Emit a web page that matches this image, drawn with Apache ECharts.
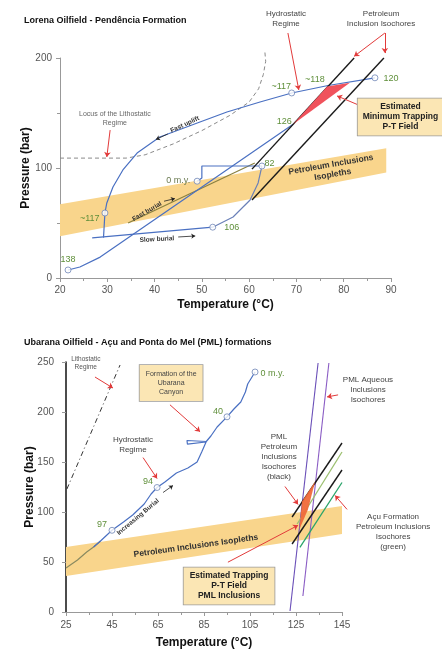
<!DOCTYPE html>
<html><head><meta charset="utf-8">
<script src="https://cdn.jsdelivr.net/npm/echarts@6/dist/echarts.min.js"></script>
<style>html,body{margin:0;padding:0;background:#fff}#c{width:442px;height:650px}</style>
</head><body><div id="c"></div>
<script>
const FONT = 'Arial, "Liberation Sans", sans-serif';

// ---------- Lorena Oilfield (top) data: [Temperature °C, Pressure bar] ----------
const lorenaIsoplethBand = [[20,67],[89,118],[89,96],[20,38]];
const lorenaLithostatic = [[20,109],[34,109],[38,112],[44,122],[50,134],[56,148],[60,160],[62,172],[63,185],[63.5,197],[63.3,207]];
const lorenaBurial138to126 = [[21.7,7.3],[24.2,10],[28.5,19],[69.3,139.7]];
const lorenaUplift = [[29.2,36.7],[29.5,59.1],[29.9,68.2],[31.2,82.7],[33.3,98.2],[36.3,113.6],[41.1,128.2],[49.6,141.8],[55.3,150.9],[62.3,160],[69,168.2],[76.7,175],[86.6,182]];
const lorenaSlowBurial = [[26.8,36.4],[52.3,46.2]];
const lorena106to82 = [[52.3,46.2],[56.6,55.5],[60.2,70.9],[61.9,86.4],[62.7,101.8]];
const lorena82to0 = [[62.7,101.8],[50,101.8],[50,91],[49,88]];
const lorenaFastBurial = [[34.4,50],[61.2,104.5]];
const lorenaIsochoreLeft = [[60.6,99],[82.2,200]];
const lorenaIsochoreRight = [[60.6,71],[88.5,200]];
const lorenaTrapField = [[69.3,139.7],[76.5,174],[81.3,177.6]];
const lorenaTimePoints = [[21.7,7.3],[29.5,59.1],[52.3,46.2],[62.7,101.8],[49,88],[69,168.2],[86.6,182]];
const lorenaTimeLabels = ['138','~117','106','82','0 m.y.','~117','~118','120','126'];

// ---------- Ubarana Oilfield (bottom) data ----------
const ubaranaIsoplethBand = [[25,65],[145,106],[145,78],[25,36]];
const ubaranaLithostatic = [[25.4,123],[48.5,247]];
const ubaranaBurialStart = [[25,44],[30,52],[34,60],[37,65],[40,71]];
const ubaranaBurial = [[37,65],[40,71],[45,81.7],[50,90],[54,97],[59,108],[62,118],[64.6,124.5],[68,130],[73,139],[78,144],[82,150],[84,160],[86,170.5],[77.6,171.5],[77.8,167.8],[85.8,170],[88,176],[90.7,185],[95,195.2],[98,203],[101,210],[103,220],[104,228],[107.2,240]];
const ubaranaTimePoints = [[45,81.7],[64.6,124.5],[95,195.2],[107.2,240]];
const ubaranaTimeLabels = ['97','94','40','0 m.y.'];
const pmlAqueous1 = [[122.4,1],[134.6,249]];
const pmlAqueous2 = [[128,16],[139.3,249]];
const pmlPetroleumA = [[123.3,95],[145,169]];
const pmlPetroleumB = [[123.3,68],[145,142]];
const acuPetroleumA = [[125.5,88],[145,160]];
const acuPetroleumB = [[126.7,64.7],[145,129.5]];
const ubaranaTrapField = [[127.6,110.6],[133.3,130.5],[130.2,102.6],[126.5,82.7]];

// ---------- annotations (text anchored in data coordinates) ----------
const GREEN = '#5f8f3a';
const lorenaTexts = [
  {t:'Locus of the Lithostatic\nRegime', p:[31.6,144.5], size:7, color:'#666'},
  {t:'Hydrostatic\nRegime', p:[67.8,235.5], size:8, color:'#444'},
  {t:'Petroleum\nInclusion Isochores', p:[87.9,235.5], size:8, color:'#444'},
  {t:'Estimated\nMinimum Trapping\nP-T Field', p:[92.0,146.4], size:8.5, bold:true, color:'#222', bg:'#fbe6b4', pad:[4,5,3,5]},
  {t:'Petroleum Inclusions\nIsopleths', p:[77.5,98.5], size:8.5, bold:true, color:'#333', rot:10},
  {t:'Fast uplift', p:[46.4,139.5], size:6.5, bold:true, color:'#333', rot:25},
  {t:'Fast burial', p:[38.4,60.5], size:6.5, bold:true, color:'#333', rot:30},
  {t:'Slow burial', p:[40.5,35.2], size:6.5, bold:true, color:'#333', rot:3},
  {t:lorenaTimeLabels[0], p:[21.7,16.4], size:9, color:GREEN},
  {t:lorenaTimeLabels[1], p:[26.3,54.5], size:9, color:GREEN},
  {t:lorenaTimeLabels[2], p:[56.3,46.2], size:9, color:GREEN},
  {t:lorenaTimeLabels[3], p:[64.3,104.5], size:9, color:GREEN},
  {t:lorenaTimeLabels[4], p:[45.0,88.2], size:9, color:'#6a7a50'},
  {t:lorenaTimeLabels[5], p:[66.8,173.8], size:9, color:GREEN},
  {t:lorenaTimeLabels[6], p:[73.9,180], size:9, color:GREEN},
  {t:lorenaTimeLabels[7], p:[90.0,181.5], size:9, color:GREEN},
  {t:lorenaTimeLabels[8], p:[67.4,142], size:9, color:GREEN}
];
const lorenaArrows = [
  [[30.6,134.5],[29.9,110]],
  [[68.2,222.7],[70.5,171]],
  [[88.7,222.7],[82.2,201.5]],
  [[88.7,222.7],[88.7,204.5]],
  [[83.6,156.4],[78.6,165.5]]
];
const lorenaSmallArrows = [
  [[42.8,130.9],[40.3,126.0]],
  [[42.0,69.8],[44.3,72.2]],
  [[45.0,37.3],[48.6,38.2]]
];
const ubaranaTexts = [
  {t:'Lithostatic\nRegime', p:[33.6,249], size:6.5, color:'#555'},
  {t:'Formation of the\nUbarana\nCanyon', p:[70.7,229], size:7, color:'#444', bg:'#fbe6b4', pad:[5,6,4,6]},
  {t:'Hydrostatic\nRegime', p:[54.1,167.3], size:8, color:'#444'},
  {t:'Increasing Burial', p:[56.3,95.0], size:6.5, bold:true, color:'#333', rot:40},
  {t:'Petroleum Inclusions Isopleths', p:[81.5,66.0], size:8.5, bold:true, color:'#333', rot:8},
  {t:'Estimated Trapping\nP-T Field\nPML Inclusions', p:[95.9,26.0], size:8.5, bold:true, color:'#222', bg:'#fbe6b4', pad:[4,6,3,6]},
  {t:'PML Aqueous\nInclusions\nIsochores', p:[156.3,222], size:8, color:'#444'},
  {t:'PML\nPetroleum\nInclusions\nIsochores\n(black)', p:[117.6,155.4], size:8, color:'#444'},
  {t:'Açu Formation\nPetroleum Inclusions\nIsochores\n(green)', p:[167.2,80.7], size:8, color:'#444'},
  {t:ubaranaTimeLabels[0], p:[40.7,87.6], size:9, color:GREEN},
  {t:ubaranaTimeLabels[1], p:[60.7,130.5], size:9, color:GREEN},
  {t:ubaranaTimeLabels[2], p:[91.1,200.2], size:9, color:GREEN},
  {t:ubaranaTimeLabels[3], p:[109.6,238], size:9, color:GREEN, align:'left'}
];
const ubaranaArrows = [
  [[37.6,235],[45.4,224]],
  [[70.2,207.2],[83.3,180.3]],
  [[58.5,154.4],[64.6,133.5]],
  [[95.4,49.8],[125.9,86.7]],
  [[143.3,217.1],[138.5,215.1]],
  [[120.2,125.5],[125.9,107.6]],
  [[147.2,102.6],[142,116.5]]
];
const ubaranaSmallArrows = [
  [[67.2,119.5],[71.5,126.5]]
];

// ---------- helpers ----------
function lineS(g, data, color, width, type, z){
  return {type:'line', xAxisIndex:g, yAxisIndex:g, data:data, showSymbol:false, symbol:'none', clip:false,
    lineStyle:{color:color, width:width, type:type||'solid'}, z:z||3, silent:true, animation:false};
}
function polyS(g, pts, color, opacity, z){
  return {type:'custom', xAxisIndex:g, yAxisIndex:g, data:[pts[0]], clip:false, z:z, silent:true, animation:false,
    renderItem:function(params, api){
      return {type:'polygon', shape:{points:pts.map(function(p){return api.coord(p);})}, style:{fill:color, opacity:opacity}};
    }};
}
function textS(g, items){
  return {type:'custom', xAxisIndex:g, yAxisIndex:g, data:items.map(function(it){return it.p;}), clip:false, z:10, silent:true, animation:false,
    renderItem:function(params, api){
      var it = items[params.dataIndex]; var c = api.coord(it.p); var sz = it.size||8;
      var st = {text:it.t, fill:it.color||'#444', fontSize:sz, fontWeight:it.bold?'bold':'normal', fontFamily:FONT,
        align:it.align||'center', verticalAlign:'middle', lineHeight:Math.round(sz*1.22)};
      if (it.bg){ st.backgroundColor = it.bg; st.borderColor = '#9a9a9a'; st.borderWidth = 0.8; st.padding = it.pad; }
      return {type:'text', x:c[0], y:c[1], rotation:(it.rot||0)*Math.PI/180, style:st};
    }};
}
function arrowS(g, arr, size){
  return {type:'lines', coordinateSystem:'cartesian2d', xAxisIndex:g, yAxisIndex:g, polyline:false,
    data:arr.map(function(a){return {coords:a};}), symbol:['none','arrow'], symbolSize:[0,size||5],
    lineStyle:{color:'#e23a3a', width:1, opacity:1, curveness:0}, clip:false, z:9, silent:true, animation:false};
}
function darrowS(g, arr){
  var s = arrowS(g, arr, 4); s.lineStyle = {color:'#222', width:0.8, opacity:1}; return s;
}
function circS(g, data){
  return {type:'scatter', xAxisIndex:g, yAxisIndex:g, data:data, symbol:'circle', symbolSize:6, clip:false, z:7, silent:true, animation:false,
    itemStyle:{color:'#fff', borderColor:'#6f86b6', borderWidth:1}};
}

const BLUE = '#4a70c2';
const axisLbl = {color:'#555', fontSize:10, fontFamily:FONT};
const axisName = {color:'#111', fontSize:12, fontWeight:'bold', fontFamily:FONT};

const option = {
  backgroundColor:'#fff',
  animation:false,
  title:[
    {text:'Lorena Oilfield - Pendência Formation', left:19, top:11, textStyle:{fontSize:9, fontWeight:'bold', color:'#111', fontFamily:FONT}},
    {text:'Ubarana Oilfield - Açu and Ponta do Mel (PML) formations', left:19, top:333, textStyle:{fontSize:9, fontWeight:'bold', color:'#111', fontFamily:FONT}}
  ],
  grid:[
    {left:60, top:58, width:331, height:220, containLabel:false},
    {left:66, top:362, width:276, height:251, containLabel:false}
  ],
  xAxis:[
    {gridIndex:0, type:'value', min:20, max:90, interval:10, name:'Temperature (°C)', nameLocation:'middle', nameGap:21, nameTextStyle:axisName,
     axisLine:{lineStyle:{color:'#999', width:1}}, axisTick:{length:4, lineStyle:{color:'#999'}}, minorTick:{show:true, splitNumber:2, length:3, lineStyle:{color:'#999'}},
     splitLine:{show:false}, minorSplitLine:{show:false}, axisLabel:Object.assign({margin:7}, axisLbl)},
    {gridIndex:1, type:'value', min:25, max:145, interval:20, name:'Temperature (°C)', nameLocation:'middle', nameGap:25, nameTextStyle:axisName,
     axisLine:{lineStyle:{color:'#999', width:1}}, axisTick:{length:4, lineStyle:{color:'#999'}}, minorTick:{show:true, splitNumber:2, length:3, lineStyle:{color:'#999'}},
     splitLine:{show:false}, minorSplitLine:{show:false}, axisLabel:Object.assign({margin:8}, axisLbl)}
  ],
  yAxis:[
    {gridIndex:0, type:'value', min:0, max:200, interval:100, name:'Pressure (bar)', nameLocation:'middle', nameGap:28, nameMoveOverlap:false, nameRotate:90, nameTextStyle:axisName,
     axisLine:{show:true, lineStyle:{color:'#999', width:1}}, axisTick:{show:true, length:4, lineStyle:{color:'#999'}}, minorTick:{show:true, splitNumber:2, length:3, lineStyle:{color:'#999'}},
     splitLine:{show:false}, minorSplitLine:{show:false}, axisLabel:Object.assign({margin:8}, axisLbl)},
    {gridIndex:1, type:'value', min:0, max:250, interval:50, name:'Pressure (bar)', nameLocation:'middle', nameGap:30, nameMoveOverlap:false, nameRotate:90, nameTextStyle:axisName,
     axisLine:{show:true, lineStyle:{color:'#111', width:1.5}}, axisTick:{show:true, length:4, lineStyle:{color:'#999'}},
     splitLine:{show:false}, axisLabel:Object.assign({margin:12}, axisLbl)}
  ],
  series:[
    // top chart
    polyS(0, lorenaIsoplethBand, '#f9d58c', 1, 1),
    lineS(0, lorenaLithostatic, '#8a8a8a', 1, [4,3], 2),
    lineS(0, lorenaFastBurial, '#8a8040', 1.2, 'solid', 3),
    lineS(0, lorenaIsochoreLeft, '#1a1a1a', 1.4, 'solid', 4),
    lineS(0, lorenaIsochoreRight, '#1a1a1a', 1.4, 'solid', 4),
    lineS(0, lorenaBurial138to126, BLUE, 1.2),
    lineS(0, lorenaUplift, BLUE, 1.2),
    lineS(0, lorenaSlowBurial, BLUE, 1.2),
    lineS(0, lorena106to82, '#6a80b8', 1.2),
    lineS(0, lorena82to0, BLUE, 1.2),
    polyS(0, lorenaTrapField, '#f0525c', 1, 5),
    circS(0, lorenaTimePoints),
    arrowS(0, lorenaArrows),
    darrowS(0, lorenaSmallArrows),
    textS(0, lorenaTexts),
    // bottom chart
    polyS(1, ubaranaIsoplethBand, '#f9d58c', 1, 1),
    lineS(1, ubaranaLithostatic, '#333', 1, [5,3,1,3], 2),
    lineS(1, ubaranaBurialStart, '#8a8a60', 1.2),
    lineS(1, ubaranaBurial, BLUE, 1.2),
    lineS(1, pmlAqueous1, '#6a4fb8', 1.1),
    lineS(1, pmlAqueous2, '#8a5cc4', 1.1),
    lineS(1, pmlPetroleumA, '#1a1a1a', 1.4, 'solid', 4),
    lineS(1, pmlPetroleumB, '#1a1a1a', 1.4, 'solid', 4),
    lineS(1, acuPetroleumA, '#9cc070', 1.3, 'solid', 4),
    lineS(1, acuPetroleumB, '#2aa46a', 1.3, 'solid', 4),
    polyS(1, ubaranaTrapField, '#f06a3a', 0.95, 5),
    circS(1, ubaranaTimePoints),
    arrowS(1, ubaranaArrows),
    darrowS(1, ubaranaSmallArrows),
    textS(1, ubaranaTexts)
  ]
};
const chart = echarts.init(document.getElementById('c'), null, {renderer:'canvas'});
chart.setOption(option);
</script>
</body></html>
